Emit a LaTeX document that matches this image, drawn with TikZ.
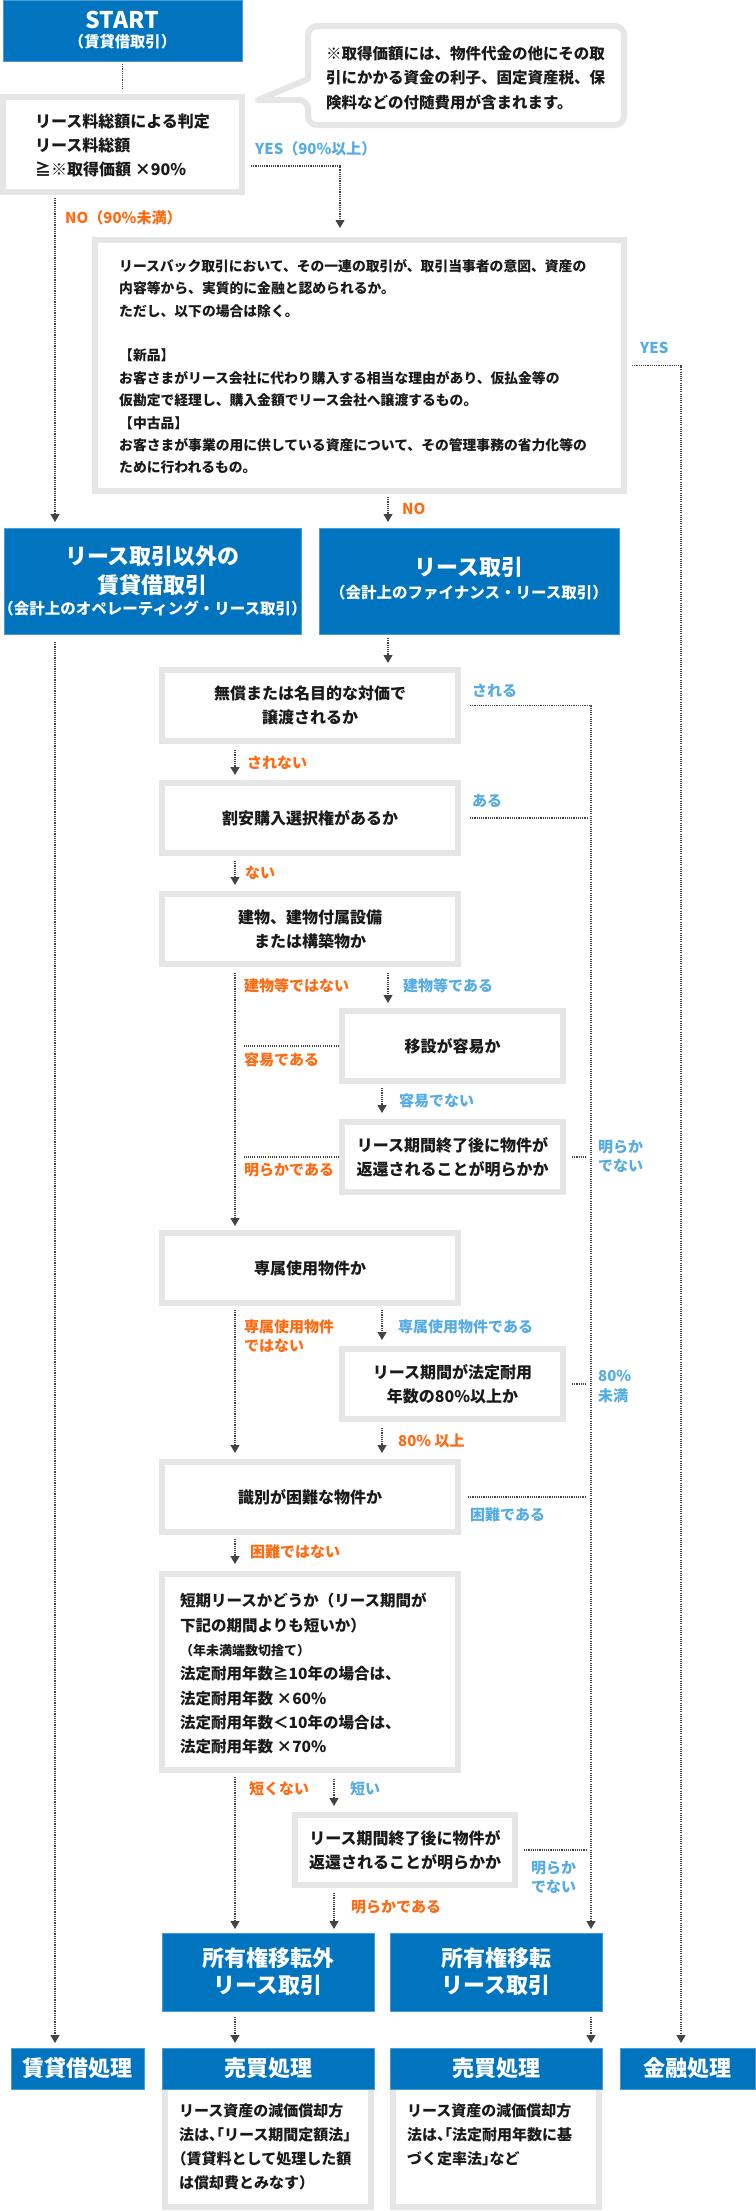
\documentclass[tikz,border=0pt]{standalone}
\usepackage{fontspec}
\setmainfont{Noto Sans CJK JP}
\newfontfamily\hw{Noto Sans CJK JP}[RawFeature=+halt]
\usetikzlibrary{arrows.meta,calc}
\definecolor{blueF}{HTML}{0074BF}
\definecolor{blueE}{HTML}{4A9AD6}
\definecolor{boxgray}{HTML}{E6E6E6}
\definecolor{orangeT}{HTML}{FF6A13}
\definecolor{blueT}{HTML}{55ACE4}
\definecolor{lineC}{HTML}{444444}
\definecolor{textC}{HTML}{1A1A1A}
\newcommand\fs[2]{\fontsize{#1}{#2}\selectfont}
\tikzset{
  gb/.style={draw=boxgray, line width=6pt, fill=white, inner sep=0pt, outer sep=0pt, align=center, text=textC, font=\bfseries\fs{16}{24}},
  bb/.style={draw=blueE, line width=0.8pt, fill=blueF, inner sep=0pt, outer sep=0pt, align=center, text=white, font=\bfseries\fs{22}{27}},
  conn/.style={draw=lineC, line width=1.1pt, dash pattern=on 1.1pt off 1.1pt},
  arr/.style={conn, -{Triangle[width=9pt,length=8pt]}},
  lab/.style={inner sep=0pt, font=\bfseries\fs{15}{18.5}},
  lo/.style={lab, text=orangeT},
  lb/.style={lab, text=blueT},
  txt/.style={inner sep=0pt, anchor=north west, align=left, text=textC},
  wt/.style={inner sep=0pt, text=white, align=center},
}
\newcommand\GB[6]{\node[gb, minimum width={#4-#2-6}, minimum height={#5-#3-6}] (#1) at ({(#2+#4)/2},{(#3+#5)/2}) {#6};}
\newcommand\BB[6]{\node[bb, minimum width={#4-#2}, minimum height={#5-#3}] (#1) at ({(#2+#4)/2},{(#3+#5)/2}) {#6};}
\begin{document}
\begin{tikzpicture}[x=1pt,y=-1pt]
\useasboundingbox (0,0) rectangle (755,2211);
\fill[white] (0,0) rectangle (755,2211);

% START
\BB{start}{3}{0}{242}{61}{}
\node[wt, font=\bfseries\fs{23}{23}] (startT) at (122.5,20) {START};
\node[wt, font=\bfseries\fs{15.3}{18}] (startS) at (122.5,42) {（賃貸借取引）};

% judgement
\GB{judge}{0}{94}{245}{195}{}
\node[txt, font=\bfseries\fs{16}{24}] (judgeT) at (35,114) {リース料総額による判定\\リース料総額\\≧※取得価額 ×90\%};

% speech bubble
\draw[boxgray, line width=6pt, fill=white, line join=round] (450,26) [rounded corners=9pt] -- (624,26) -- (624,125) -- (308,125) -- (308,100) [sharp corners] -- (258,100) -- (308,79) [rounded corners=9pt] -- (308,26) -- (450,26);
\node[txt, font=\bfseries\fs{15.5}{24.5}] (noteT) at (326,45.5) {※取得価額には、物件代金の他にその取\\引にかかる資金の利子、固定資産税、保\\険料などの付随費用が含まれます。};

% big box
\GB{bigq}{92}{237}{627}{494}{}
\node[txt, font=\bfseries\fs{13.8}{22.4}] (bigT) at (119,259) {リースバック取引において、その一連の取引が、取引当事者の意図、資産の\\内容等から、実質的に金融と認められるか。\\ただし、以下の場合は除く。\\[22.4pt]【新品】\\お客さまがリース会社に代わり購入する相当な理由があり、仮払金等の\\仮勘定で経理し、購入金額でリース会社へ譲渡するもの。\\【中古品】\\お客さまが事業の用に供している資産について、その管理事務の省力化等の\\ために行われるもの。};

% blue boxes
\BB{opbox}{4}{528}{301}{634}{}
\node[wt, font=\bfseries\fs{22}{29}] (opT) at (152.5,570.5) {リース取引以外の\\賃貸借取引};
\node[wt, font=\bfseries\fs{15.5}{18}] (opS) at (152.5,608) {（会計上のオペレーティング・リース取引）};
\BB{finbox}{319}{528}{619}{634}{}
\node[wt, font=\bfseries\fs{22}{29}] (finT) at (469,567) {リース取引};
\node[wt, font=\bfseries\fs{15.5}{18}] (finS) at (469,593) {（会計上のファイナンス・リース取引）};

% decisions
\GB{q1}{159}{667}{461}{744}{無償または名目的な対価で\\譲渡されるか}
\GB{q2}{159}{780}{461}{856}{割安購入選択権があるか}
\GB{q3}{159}{891}{461}{967}{建物、建物付属設備\\または構築物か}
\GB{q4}{339}{1008}{566}{1084}{移設が容易か}
\GB{q5}{339}{1119}{566}{1195}{リース期間終了後に物件が\\返還されることが明らかか}
\GB{q6}{159}{1230}{461}{1306}{専属使用物件か}
\GB{q7}{339}{1346}{566}{1422}{リース期間が法定耐用\\年数の80\%以上か}
\GB{q8}{159}{1459}{461}{1535}{識別が困難な物件か}
\GB{q9}{159}{1571}{461}{1773}{}
\node[txt, font=\bfseries\fs{15.5}{24.3}] (q9T) at (180,1593) {短期リースかどうか（リース期間が\\下記の期間よりも短いか）\\{\fs{13}{16}（年未満端数切捨て）}\\法定耐用年数≧10年の場合は、\\法定耐用年数 ×60\%\\法定耐用年数＜10年の場合は、\\法定耐用年数 ×70\%};
\GB{q10}{292}{1812}{518}{1888}{リース期間終了後に物件が\\返還されることが明らかか}

% result boxes
\BB{ownno}{162}{1933}{374}{2011}{所有権移転外\\リース取引}
\BB{ownyes}{390}{1933}{602}{2011}{所有権移転\\リース取引}
\GB{desc1}{162}{2080}{374}{2210}{}
\GB{desc2}{390}{2080}{602}{2210}{}
\BB{chintai}{11}{2048}{144}{2089}{賃貸借処理}
\BB{baibai1}{162}{2048}{374}{2089}{売買処理}
\BB{baibai2}{390}{2048}{602}{2089}{売買処理}
\BB{kinyu}{620}{2048}{755}{2089}{金融処理}
\node[txt, font=\hw\bfseries\fs{15}{24}] (d1T) at (179,2103.5) {リース資産の減価償却方\\法は、「リース期間定額法」\\（賃貸料として処理した額\\は償却費とみなす）};
\node[txt, font=\hw\bfseries\fs{15}{24}] (d2T) at (407,2103.5) {リース資産の減価償却方\\法は、「法定耐用年数に基\\づく定率法」など};

% columns
\coordinate (cA) at (55,0);
\coordinate (cB) at (235,0);
\coordinate (cC) at (388,0);
\coordinate (cC2) at (382,0);
\coordinate (cD) at (334,0);
\coordinate (cR) at (591,0);
\coordinate (cY) at (681,0);
\coordinate (cK) at (340,0);
\coordinate (cL) at (244,0);
\coordinate (yesS) at (251,166);

% connectors
\draw[conn, shorten <=3pt, shorten >=7pt] (start.south) -- (judge.north);
\draw[arr, shorten >=12pt] (yesS) -| (bigq.north -| cK);
\draw[arr, shorten <=6pt, shorten >=6pt] (judge.south -| cA) -- (opbox.north -| cA);
\draw[arr, shorten <=6pt, shorten >=6pt] (bigq.south -| cC) -- (finbox.north -| cC);
\draw[arr, shorten <=8pt, shorten >=5pt] (bigq.east) -- (bigq.east -| cY) -- (kinyu.north -| cY);
\draw[arr, shorten <=4pt, shorten >=7pt] (finbox.south -| cC) -- (q1.north -| cC);
\draw[arr, shorten <=8pt, shorten >=5pt] (opbox.south -| cA) -- (chintai.north -| cA);
\draw[arr, shorten <=9pt, shorten >=8pt] (q1.south -| cB) -- (q2.north -| cB);
\draw[arr, shorten <=12pt, shorten >=4pt] (q1.east) -- (q1.east -| cR) -- (ownyes.north -| cR);
\draw[conn, shorten <=12pt, shorten >=4pt] (q2.east) -- (q2.east -| cR);
\draw[arr, shorten <=8pt, shorten >=9pt] (q2.south -| cB) -- (q3.north -| cB);
\draw[arr, shorten <=9pt, shorten >=7pt] (q3.south -| cB) -- (q6.north -| cB);
\draw[arr, shorten <=9pt, shorten >=8pt] (q3.south -| cC) -- (q4.north -| cC);
\draw[conn, shorten <=3pt] (q4.west) -- (q4.west -| cL);
\draw[arr, shorten <=7pt, shorten >=9pt] (q4.south -| cC2) -- (q5.north -| cC2);
\draw[conn, shorten <=3pt] (q5.west) -- (q5.west -| cL);
\draw[conn, shorten <=9pt, shorten >=5pt] (q5.east) -- (q5.east -| cR);
\draw[arr, shorten <=7pt, shorten >=9pt] (q6.south -| cB) -- (q8.north -| cB);
\draw[arr, shorten <=7pt, shorten >=9pt] (q6.south -| cC2) -- (q7.north -| cC2);
\draw[conn, shorten <=9pt, shorten >=5pt] (q7.east) -- (q7.east -| cR);
\draw[arr, shorten <=9pt, shorten >=9pt] (q7.south -| cC2) -- (q8.north -| cC2);
\draw[conn, shorten <=10pt, shorten >=5pt] (q8.east) -- (q8.east -| cR);
\draw[arr, shorten <=7pt, shorten >=10pt] (q8.south -| cB) -- (q9.north -| cB);
\draw[arr, shorten <=7pt, shorten >=4pt] (q9.south -| cB) -- (ownno.north -| cB);
\draw[arr, shorten <=9pt, shorten >=9pt] (q9.south -| cD) -- (q10.north -| cD);
\draw[conn, shorten <=9pt, shorten >=5pt] (q10.east) -- (q10.east -| cR);
\draw[arr, shorten <=8pt, shorten >=4pt] (q10.south -| cD) -- (ownno.north -| cD);
\draw[arr, shorten <=6pt, shorten >=5pt] (ownno.south -| cB) -- (baibai1.north -| cB);
\draw[arr, shorten <=6pt, shorten >=5pt] (ownyes.south -| cR) -- (baibai2.north -| cR);

% labels
\node[lb, anchor=west] (lYes1) at (255,149) {YES（90\%以上）};
\node[lo, anchor=west] (lNo1) at (65,218) {NO（90\%未満）};
\node[lb, anchor=west] (lYes2) at (640,348) {YES};
\node[lo, anchor=west] (lNo2) at (402,509) {NO};
\node[lb, anchor=west] (l1) at (472,691) {される};
\node[lo, anchor=west] (l2) at (247,763) {されない};
\node[lb, anchor=west] (l3) at (472,801) {ある};
\node[lo, anchor=west] (l4) at (245,873) {ない};
\node[lo, anchor=west] (l5) at (244,986) {建物等ではない};
\node[lb, anchor=west] (l6) at (403,986) {建物等である};
\node[lo, anchor=west] (l7) at (244,1060) {容易である};
\node[lb, anchor=west] (l8) at (399,1101) {容易でない};
\node[lo, anchor=west] (l9) at (244,1170) {明らかである};
\node[lb, anchor=north west, align=left] (l10) at (598,1140.5) {明らか\\でない};
\node[lo, anchor=north west, align=left] (l11) at (244,1319.5) {専属使用物件\\ではない};
\node[lb, anchor=west] (l12) at (398,1327) {専属使用物件である};
\node[lb, anchor=north west, align=left, font=\bfseries\fs{15}{20}] (l13) at (598,1369.5) {80\%\\未満};
\node[lo, anchor=west] (l14) at (398,1441) {80\% 以上};
\node[lb, anchor=west] (l15) at (470,1515) {困難である};
\node[lo, anchor=west] (l16) at (250,1552) {困難ではない};
\node[lo, anchor=west] (l17) at (249,1789) {短くない};
\node[lb, anchor=west] (l18) at (350,1789) {短い};
\node[lb, anchor=north west, align=left, font=\bfseries\fs{15}{19}] (l19) at (531,1861.5) {明らか\\でない};
\node[lo, anchor=west] (l20) at (351,1907) {明らかである};
\end{tikzpicture}
\end{document}
